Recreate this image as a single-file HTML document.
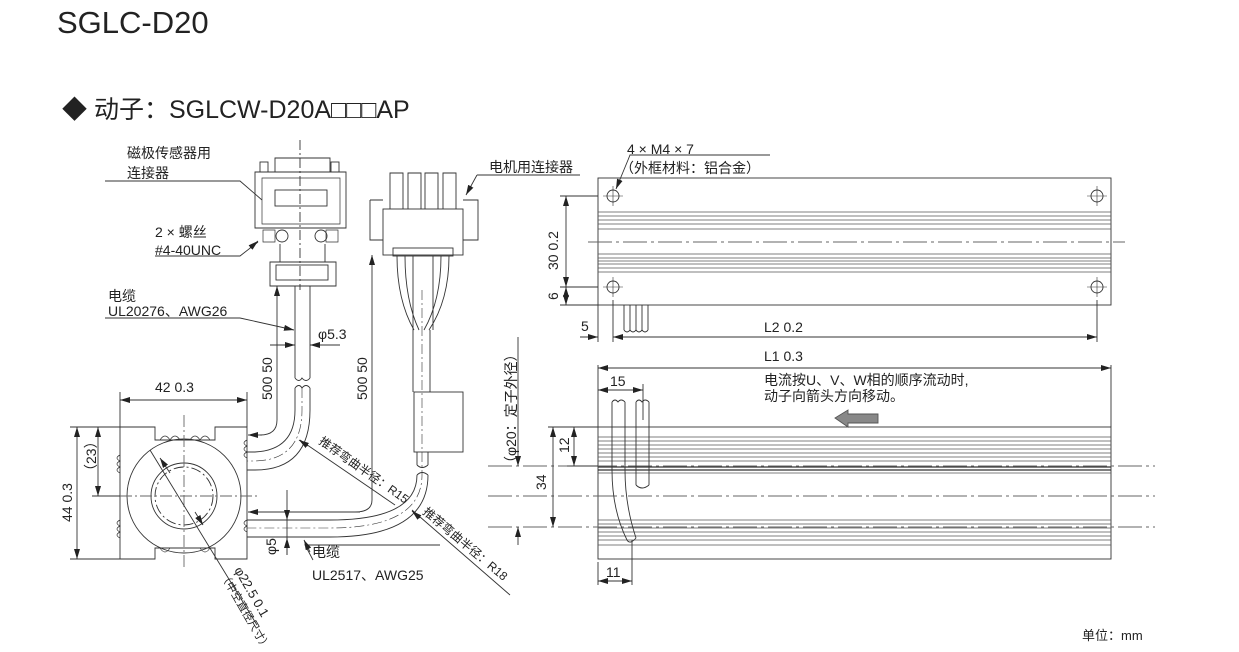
<!DOCTYPE html>
<html><head><meta charset="utf-8"><style>
body{margin:0;background:#fff;width:1239px;height:652px;overflow:hidden}
svg{display:block}
text{font-family:"Liberation Sans","Noto Sans CJK SC",sans-serif;fill:#222}
</style></head><body>
<svg width="1239" height="652" viewBox="0 0 1239 652" xmlns="http://www.w3.org/2000/svg">
<defs>
<marker id="a" viewBox="0 0 10 6" refX="10" refY="3" markerWidth="10" markerHeight="6" orient="auto-start-reverse" markerUnits="userSpaceOnUse"><path d="M0,0L10,3L0,6z" fill="#222"/></marker>
</defs>
<text x="57" y="33" font-size="31">SGLC-D20</text>
<text x="62" y="118" font-size="25">◆ 动子：SGLCW-D20A□□□AP</text>
<g stroke="#333" fill="none" stroke-width="0.9">
<rect x="598" y="178" width="513" height="127"/>
<g stroke="#555" stroke-width="0.7">
<path d="M598 212H1111M598 216H1111M598 220H1111M598 224H1111M598 229H1111M598 254H1111M598 258H1111M598 261H1111M598 264H1111M598 268H1111M598 272H1111"/>
</g>
<path d="M588 242H1125" stroke-dasharray="24 4 3 4" stroke="#666"/>
<circle cx="613" cy="196" r="6"/><circle cx="613" cy="287" r="6"/>
<circle cx="1097" cy="196" r="6"/><circle cx="1097" cy="287" r="6"/>
<path d="M603 196H623M613 186V206M1087 196H1107M1097 186V206M1087 287H1107M1097 277V297M603 287H623M613 277V297" stroke-width="0.6"/>
<path d="M628 160L630 155H770"/>
<line x1="628" y1="160" x2="616" y2="189" marker-end="url(#a)"/>
<path d="M560 196H598M560 287H598M560 305H598"/>
<line x1="566" y1="196" x2="566" y2="287" marker-start="url(#a)" marker-end="url(#a)"/>
<line x1="566" y1="287" x2="566" y2="305" marker-start="url(#a)" marker-end="url(#a)"/>
<path d="M624 305V330M630 305V330M636 305V330M642 305V330M648 305V330"/>
<path d="M624 330q3 4 6 0q3 4 6 0q3 4 6 0q3 4 6 0"/>
<path d="M598 305V342M613 300V342M1097 300V342"/>
<line x1="580" y1="337" x2="598" y2="337" marker-end="url(#a)"/>
<line x1="613" y1="337" x2="1097" y2="337" marker-start="url(#a)" marker-end="url(#a)"/>
<rect x="598" y="427" width="513" height="132"/>
<g stroke="#555" stroke-width="0.7">
<path d="M598 437H1111M598 441H1111M598 445H1111M598 449H1111M598 453H1111M598 457H1111M598 461H1111M598 473H1111M598 520H1111M598 524H1111M598 528H1111M598 532H1111M598 536H1111M598 540H1111M598 545H1111"/>
</g>
<path d="M598 467H1111M598 470H1111" stroke-width="1.2"/>
<g stroke="#666" stroke-dasharray="24 4 3 4">
<path d="M488 466H1155M488 496H1155M488 527H1155"/>
</g>
<path d="M598 365V427M1111 365V427"/>
<line x1="598" y1="368" x2="1111" y2="368" marker-start="url(#a)" marker-end="url(#a)"/>
<line x1="598" y1="390" x2="643" y2="390" marker-start="url(#a)" marker-end="url(#a)"/>
<path d="M643 384V420"/>
<path d="M612 402V470Q612 510 627 540M625 402V470Q625 505 636 538M627 540q3 5 9 -2" fill="none"/>
<path d="M612 402q3 -4 6 0q3 -4 7 0"/>
<path d="M636 402V485M649 402V485M636 485q6 6 13 0M636 402q3 -4 6 0q3 -4 7 0"/>
<path d="M598 562V585M632 540V585"/>
<line x1="598" y1="581" x2="632" y2="581" marker-start="url(#a)" marker-end="url(#a)"/>
<path d="M548 427H598M567 466H598"/>
<line x1="553" y1="427" x2="553" y2="527" marker-start="url(#a)" marker-end="url(#a)"/>
<line x1="574" y1="427" x2="574" y2="466" marker-start="url(#a)" marker-end="url(#a)"/>
<line x1="518" y1="337" x2="518" y2="466" marker-end="url(#a)"/>
<line x1="518" y1="545" x2="518" y2="527" marker-end="url(#a)"/>
<path d="M835 418L848 410V414H878V423H848V427Z" fill="#888" stroke="#555"/>
<path d="M120 427H155V440H215V427H247V559H215V548H155V559H120Z"/>
<path d="M160 440q5 -8 10 0q5 -8 10 0M190 440q5 -8 10 0q5 -8 10 0M160 548q5 8 10 0M200 548q5 8 10 0" stroke-width="0.7"/>
<path d="M120 455q-6 3 0 6q-6 3 0 6q-6 3 0 6M120 520q-6 3 0 6q-6 3 0 6q-6 3 0 6M247 440q-6 3 0 6q-6 3 0 6q-6 3 0 6M247 520q-6 3 0 6q-6 3 0 6" stroke-width="0.7"/>
<circle cx="184" cy="496" r="57"/><circle cx="184" cy="496" r="33"/>
<circle cx="184" cy="496" r="29" stroke-dasharray="10 3 2 3"/>
<path d="M100 496H258M184 415V570" stroke-dasharray="12 3 2 3" stroke="#666"/>
<line x1="150" y1="450" x2="257" y2="625"/>
<line x1="170" y1="473" x2="160" y2="458" marker-end="url(#a)"/>
<line x1="195" y1="512" x2="203" y2="525" marker-end="url(#a)"/>
<path d="M120 392V427M247 392V427"/>
<line x1="120" y1="400" x2="247" y2="400" marker-start="url(#a)" marker-end="url(#a)"/>
<path d="M70 427H120M70 559H120M92 496H120"/>
<line x1="77" y1="427" x2="77" y2="559" marker-start="url(#a)" marker-end="url(#a)"/>
<line x1="98" y1="427" x2="98" y2="496" marker-start="url(#a)" marker-end="url(#a)"/>
<path d="M255 172H346V228H255Z"/>
<path d="M262 178H340V224H262Z" stroke-width="0.7"/>
<rect x="275" y="190" width="52" height="16"/>
<path d="M275 172V158H330V172"/>
<rect x="260" y="162" width="8" height="10"/><rect x="331" y="162" width="8" height="10"/>
<circle cx="282" cy="236" r="6"/><circle cx="321" cy="236" r="6"/>
<path d="M263 230h12v12h-12zM326 230h12v12h-12z" stroke-width="0.7"/>
<path d="M270 262H336V286H270Z"/><rect x="276" y="265" width="52" height="15"/>
<path d="M280 244V262M325 244V262"/>
<path d="M300 140V290" stroke-dasharray="10 3 2 3"/>
<path d="M295 286V378M310 286V378M295 378q4 5 7 0q4 5 8 0M295 388q4 -5 7 0q4 -5 8 0"/>
<path d="M295 388V410Q295 450 255 452H247M310 388V410Q310 470 255 470H247"/>
<path d="M302 388V410Q302 460 255 461H247" stroke-dasharray="10 3 2 3" stroke-width="0.6"/>
<line x1="277" y1="300" x2="277" y2="420"/>
<line x1="277" y1="300" x2="277" y2="286" marker-end="url(#a)"/>
<path d="M277 420Q277 435 260 435"/><line x1="262" y1="435" x2="248" y2="435" marker-end="url(#a)"/>
<line x1="270" y1="345" x2="295" y2="345" marker-end="url(#a)"/>
<line x1="340" y1="345" x2="310" y2="345" marker-end="url(#a)"/>
<line x1="240" y1="318" x2="294" y2="330" marker-end="url(#a)"/>
<path d="M105 318H240"/>
<path d="M105 181H240L262 200"/>
<path d="M155 256H240L258 242"/><line x1="250" y1="248" x2="258" y2="241" marker-end="url(#a)"/>
<rect x="383" y="209" width="80" height="46"/>
<path d="M390 209V173H403V209M408 209V173H421V209M425 209V173H438V209M443 209V173H456V209"/>
<path d="M370 200H383M463 200H478V240H463M370 200V240H383"/>
<rect x="393" y="248" width="60" height="8"/>
<path d="M397 256Q397 300 414 330M405 256Q405 300 419 330M441 256Q441 300 424 330M449 256Q449 300 429 330M413 256V330M433 256V330"/>
<path d="M413 330V392M430 330V392"/>
<rect x="414" y="392" width="49" height="60"/>
<path d="M417 452V465M428 452V465M417 465q5 5 11 0M417 475q5 -5 11 0"/>
<path d="M417 475Q417 520 330 520H247M428 475Q428 537 330 537H247"/>
<path d="M422 290V475Q422 528 330 528H247" stroke-dasharray="10 3 2 3" stroke-width="0.6"/>
<line x1="372" y1="270" x2="372" y2="255" marker-end="url(#a)"/>
<path d="M372 270V500Q372 512 355 512"/><line x1="360" y1="512" x2="248" y2="512" marker-end="url(#a)"/>
<line x1="477" y1="175" x2="466" y2="195" marker-end="url(#a)"/>
<path d="M477 175H580"/>
<line x1="287" y1="490" x2="287" y2="520" marker-end="url(#a)"/>
<path d="M287 520V555"/><line x1="287" y1="555" x2="287" y2="538" marker-end="url(#a)"/>
<path d="M313 560L305 545H440"/><line x1="310" y1="552" x2="304" y2="540" marker-end="url(#a)"/>
<line x1="395" y1="505" x2="300" y2="440"/><line x1="308" y1="446" x2="299" y2="440" marker-end="url(#a)"/>
<line x1="510" y1="595" x2="412" y2="510"/><line x1="420" y1="518" x2="412" y2="511" marker-end="url(#a)"/>
</g>
<g font-size="14">
<text x="127" y="158">磁极传感器用</text>
<text x="127" y="178">连接器</text>
<text x="155" y="237">2 × 螺丝</text>
<text x="155" y="255">#4-40UNC</text>
<text x="108" y="301">电缆</text>
<text x="108" y="316">UL20276、AWG26</text>
<text x="318" y="339">φ5.3</text>
<text x="489" y="172">电机用连接器</text>
<text x="627" y="154">4 × M4 × 7</text>
<text x="620" y="173">（外框材料：铝合金）</text>
<text x="155" y="392">42  0.3</text>
<text x="764" y="332">L2  0.2</text>
<text x="764" y="361">L1  0.3</text>
<text x="610" y="386">15</text>
<text x="606" y="577">11</text>
<text x="764" y="385">电流按U、V、W相的顺序流动时,</text>
<text x="764" y="401">动子向箭头方向移动。</text>
<text x="312" y="557">电缆</text>
<text x="312" y="580">UL2517、AWG25</text>
<text x="1082" y="640" font-size="13">单位：mm</text>
<text transform="translate(72,522) rotate(-90)">44  0.3</text>
<text transform="translate(96,478) rotate(-90)">（23）</text>
<text transform="translate(272,400) rotate(-90)">500  50</text>
<text transform="translate(367,400) rotate(-90)">500  50</text>
<text transform="translate(558,270) rotate(-90)">30  0.2</text>
<text transform="translate(558,300) rotate(-90)">6</text>
<text transform="translate(546,490) rotate(-90)">34</text>
<text transform="translate(569,453) rotate(-90)">12</text>
<text transform="translate(276,555) rotate(-90)">φ5</text>
<text transform="translate(516,470) rotate(-90)">（φ20：定子外径）</text>
<text transform="translate(318,443) rotate(35)" font-size="12">推荐弯曲半径：R15</text>
<text transform="translate(422,513) rotate(40)" font-size="12">推荐弯曲半径：R18</text>
<text transform="translate(234,570) rotate(60)" font-size="13">φ22.5  0.1</text>
<text transform="translate(220,575) rotate(60)" font-size="11">（中空直径尺寸）</text>
<text x="581" y="331">5</text>
</g>
</svg>
</body></html>
